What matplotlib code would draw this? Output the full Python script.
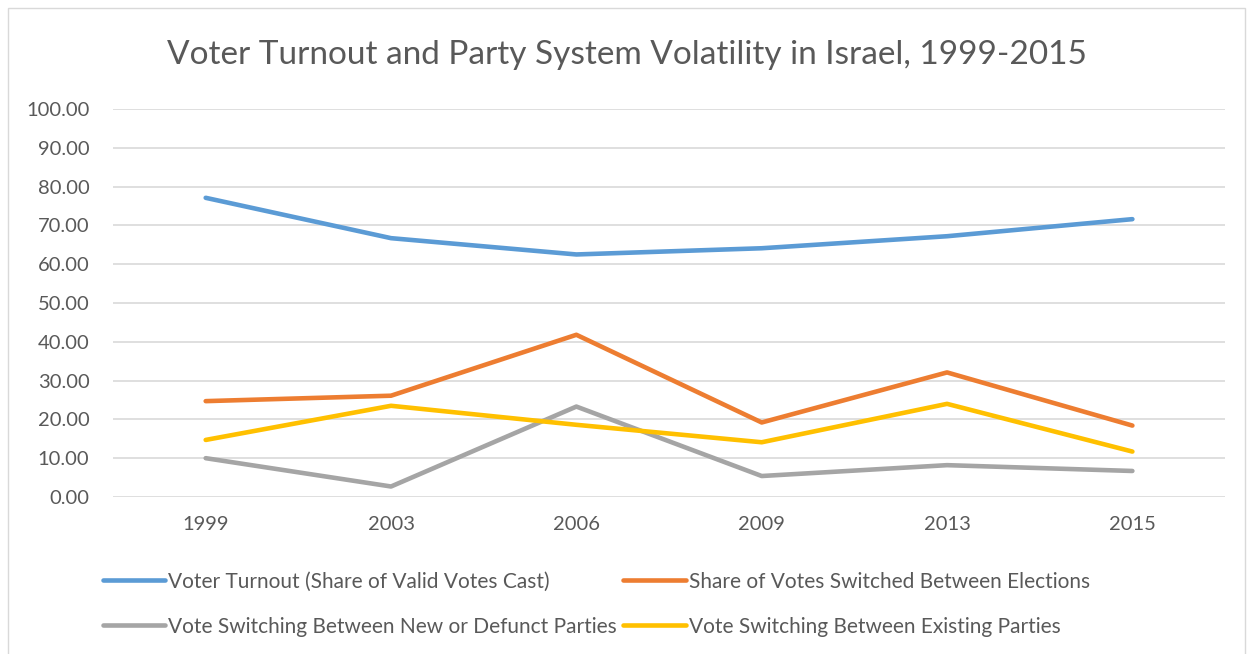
import numpy as np
import matplotlib.pyplot as plt
from matplotlib.patches import Rectangle

years = ['1999', '2003', '2006', '2009', '2013', '2015']
turnout = [77.1, 66.7, 62.5, 64.1, 67.2, 71.6]
switched = [24.7, 26.1, 41.8, 19.2, 32.1, 18.4]
new_defunct = [10.0, 2.7, 23.3, 5.4, 8.2, 6.7]
existing = [14.7, 23.5, 18.6, 14.1, 24.0, 11.7]

labels = ['Voter Turnout (Share of Valid Votes Cast)',
          'Share of Votes Switched Between Elections',
          'Vote Switching Between New or Defunct Parties',
          'Vote Switching Between Existing Parties']
colores = ['#5B9BD5', '#ED7D31', '#A5A5A5', '#FFC000']

plt.rcParams['font.family'] = ['Lato', 'DejaVu Sans']
texto = '#595959'

fig = plt.figure(figsize=(12.53, 6.54), dpi=100)
ax = fig.add_axes([0.0902, 0.2401, 0.8875, 0.5933])

x = np.arange(len(years))
series = [turnout, switched, new_defunct, existing]
lineas = []
for s, lab, c in zip(series, labels, colores):
    l, = ax.plot(x, s, color=c, linewidth=3.3, label=lab, solid_capstyle='round', solid_joinstyle='round')
    lineas.append(l)

ax.set_xlim(-0.5, len(years) - 0.5)
ax.set_ylim(0, 100)
ax.set_yticks(np.arange(0, 101, 10))
ax.set_yticklabels(['%.2f' % v for v in np.arange(0, 101, 10)])
ax.set_xticks(x)
ax.set_xticklabels(years)
ax.tick_params(axis='y', length=0, pad=17, labelsize=14.5, labelcolor=texto)
ax.tick_params(axis='x', length=0, pad=14, labelsize=14.5, labelcolor=texto)
ax.grid(axis='y', color='#D9D9D9', linewidth=1.2)
ax.set_axisbelow(True)
for sp in ax.spines.values():
    sp.set_visible(False)

fig.text(0.5, 1 - 55 / 654, 'Voter Turnout and Party System Volatility in Israel, 1999-2015',
         ha='center', va='center', fontsize=24, color=texto)

# legend filled by rows, as in the original
orden = [0, 2, 1, 3]
fig.legend([lineas[i] for i in orden], [labels[i] for i in orden],
           loc='upper left', bbox_to_anchor=(84 / 1253, 1 - 553 / 654), ncol=2,
           frameon=False, fontsize=15, labelcolor=texto, handlelength=3.0,
           handletextpad=0.15, columnspacing=0.3, labelspacing=1.2)

fig.patches.append(Rectangle((8 / 1253, -0.01), 1237 / 1253, 1 - 8 / 654 + 0.01,
                             transform=fig.transFigure, fill=False,
                             edgecolor='#D9D9D9', linewidth=1))

fig.savefig('out.png', dpi=100)
